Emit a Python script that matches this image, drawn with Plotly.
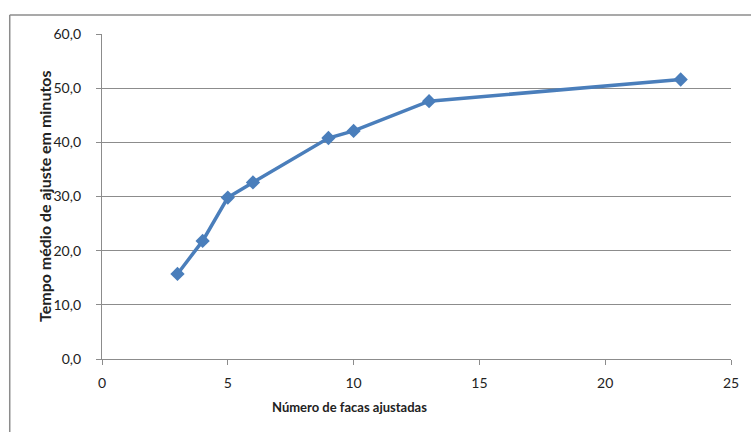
import plotly.graph_objects as go

faces = [3, 4, 5, 6, 9, 10, 13, 23]
tempo = [15.7, 21.8, 29.8, 32.6, 40.8, 42.1, 47.6, 51.6]
x_ticks = [0, 5, 10, 15, 20, 25]
y_ticks = [0, 10, 20, 30, 40, 50, 60]
x_title = "Número de facas ajustadas"
y_title = "Tempo médio de ajuste em minutos"

fig = go.Figure()
fig.add_trace(go.Scatter(
    x=faces, y=tempo, mode="lines+markers",
    line=dict(color="#4A7EBB", width=3.5),
    marker=dict(symbol="diamond", size=11, color="#4A7EBB"),
    showlegend=False, cliponaxis=False,
))

axis_gray = "#8C8C8C"
PW, PH = 634, 325  # plot area size in pixels (left 102, top 34)
fig.update_layout(
    width=751, height=432,
    margin=dict(l=102, r=15, t=34, b=73),
    paper_bgcolor="white", plot_bgcolor="white",
    separators=",.",
    font=dict(family="Lato, Open Sans, sans-serif", size=14, color="#222"),
    xaxis=dict(
        range=[0, 25], tickvals=x_ticks, showgrid=False, zeroline=False,
        showline=True, linecolor=axis_gray, linewidth=1.3,
        ticks="outside", ticklen=5, tickcolor=axis_gray, tickwidth=1.3,
        tickfont=dict(size=14), ticklabelstandoff=6,
    ),
    yaxis=dict(
        range=[0, 60], tickvals=y_ticks, tickformat=".1f",
        showgrid=True, gridcolor=axis_gray, gridwidth=1.3, zeroline=False,
        showline=True, linecolor=axis_gray, linewidth=1.3,
        ticks="outside", ticklen=5, tickcolor=axis_gray, tickwidth=1.3,
        tickfont=dict(size=14), ticklabelstandoff=12,
    ),
    annotations=[
        dict(text="<b>" + x_title + "</b>", xref="paper", yref="paper",
             x=(351 - 102) / PW, y=(359 - 407) / PH, xanchor="center", yanchor="middle",
             showarrow=False, font=dict(size=13)),
        dict(text="<b>" + y_title + "</b>", xref="paper", yref="paper",
             x=(44 - 102) / PW, y=0.5, xanchor="center", yanchor="middle",
             textangle=-90, showarrow=False, font=dict(size=16)),
    ],
    shapes=[
        dict(type="line", xref="paper", yref="paper",
             x0=(9 - 102) / PW, x1=(9 - 102) / PW,
             y0=(359 - 15) / PH, y1=(359 - 440) / PH,
             line=dict(color=axis_gray, width=1.5)),
        dict(type="line", xref="paper", yref="paper",
             x0=(9 - 102) / PW, x1=(760 - 102) / PW,
             y0=(359 - 15) / PH, y1=(359 - 15) / PH,
             line=dict(color=axis_gray, width=1.5)),
    ],
)

fig.write_html(
    "out.html",
    config=dict(displayModeBar=False),
    post_script="document.body.style.margin='0';document.body.style.overflow='hidden';",
)
